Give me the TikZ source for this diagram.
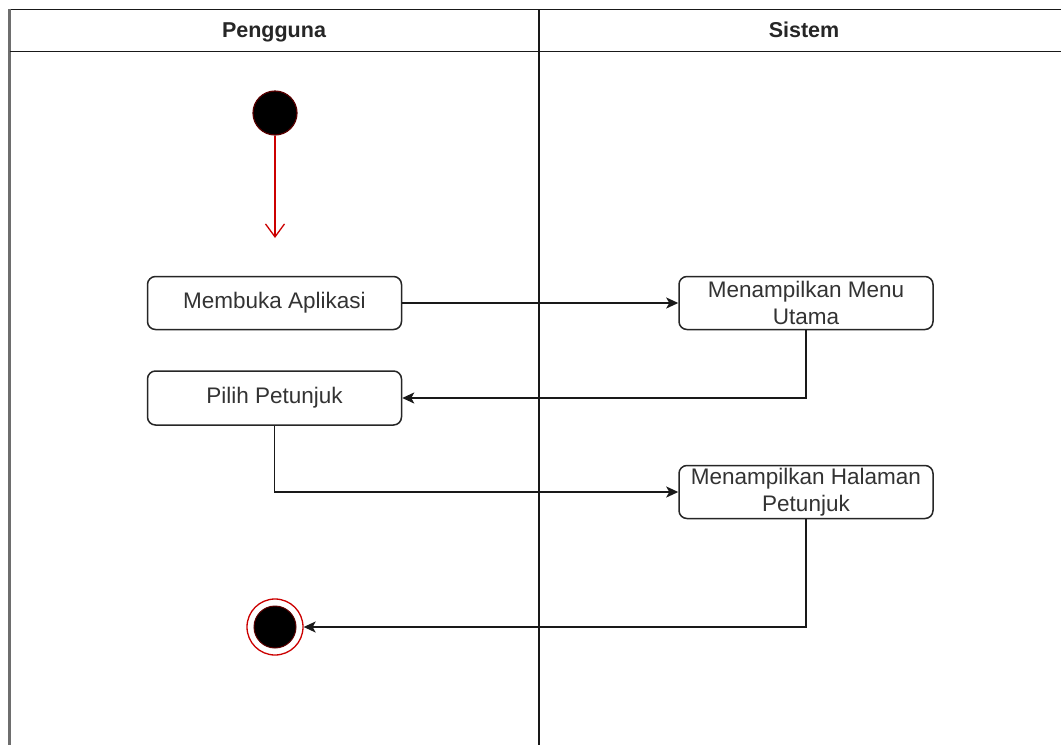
\documentclass[tikz,border=0pt]{standalone}
\usepackage{fontspec}
\setmainfont{Liberation Sans}
\usetikzlibrary{arrows.meta}
\definecolor{txtgray}{HTML}{333333}
\definecolor{lanegray}{HTML}{6E6E6E}
\definecolor{initred}{HTML}{CC0000}
\definecolor{darkred}{HTML}{5A0000}
\begin{document}
\begin{tikzpicture}[x=1pt,y=-1pt,
  lane/.style={line width=1.8pt,draw=black!90},
  action/.style={draw=black!85,line width=1.5pt,rounded corners=8pt,fill=white,
    minimum width=254pt,minimum height=53pt,align=center,inner sep=0pt,
    text=txtgray,font=\fontsize{22.5}{27.5}\selectfont},
  header/.style={font=\fontsize{21.5}{24}\selectfont\bfseries,text=black!85,anchor=base},
  flow/.style={draw=black!90,line width=1.7pt,-{Stealth[length=12pt,width=11pt,inset=3pt]}},
  startflow/.style={draw=initred,line width=1.3pt,-{Straight Barb[length=13pt,width=19pt,line width=1.3pt]}},
  initial/.style={circle,fill=black,draw=darkred,line width=1.2pt,minimum size=44pt,inner sep=0pt},
  finalring/.style={circle,draw=initred,line width=1.3pt,fill=white,minimum size=56pt,inner sep=0pt},
  finaldot/.style={circle,fill=black,draw=darkred,line width=1pt,minimum size=42pt,inner sep=0pt}
]
\useasboundingbox (0,0) rectangle (1061,745);
\fill[white] (0,0) rectangle (1061,745);

% swimlanes
\draw[lane] (1061,9.5) -- (9.5,9.5);
\draw[line width=2.4pt,draw=lanegray] (9.5,8.5) -- (9.5,745);
\draw[lane] (9.5,51.5) -- (1061,51.5);
\draw[lane] (539,9.5) -- (539,745);
\node[header] (hUser) at (274,37.5) {Pengguna};
\node[header] (hSys) at (804,37.5) {Sistem};

% states and actions
\node[initial] (start) at (275,113) {};
\coordinate (startTip) at (275,238);
\node[action] (m1) at (274.5,303) {Membuka Aplikasi};
\node[action] (s1) at (806,303) {Menampilkan Menu\\Utama};
\node[action,minimum height=54pt] (p1) at (274.5,398) {Pilih Petunjuk};
\node[action] (s2) at (806,492) {Menampilkan Halaman\\Petunjuk};
\node[finalring] (end) at (275,627) {};
\node[finaldot] (endDot) at (end.center) {};

% transitions
\draw[startflow] (start) -- (startTip);
\draw[flow] (m1) -- (s1);
\draw[flow] (s1.south) |- (p1.east);
\draw[flow] (p1.south) |- (s2.west);
\draw[flow] (s2.south) |- (end.east);
\end{tikzpicture}
\end{document}
